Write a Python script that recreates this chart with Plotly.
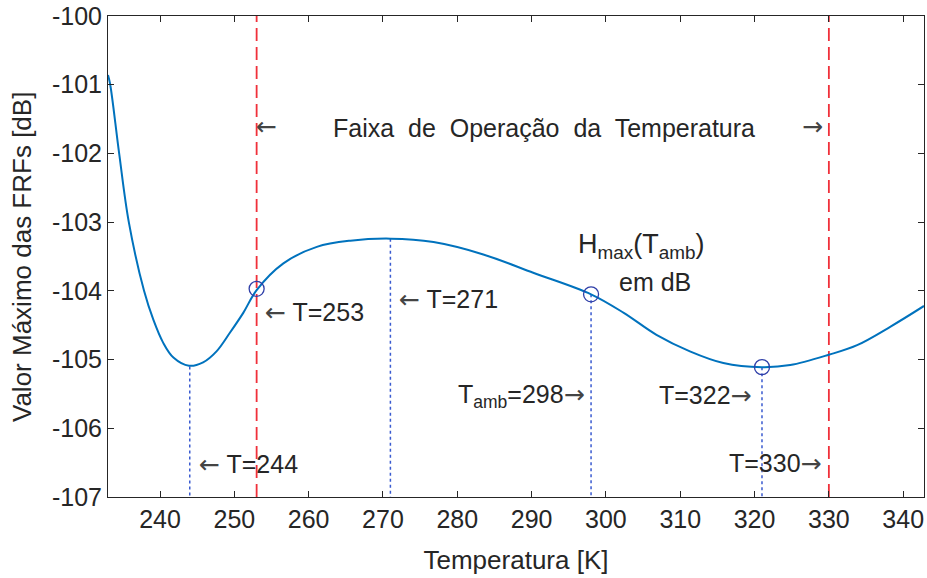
import plotly.graph_objects as go

# Curve
T_curve = [233.0, 233.3, 234.5, 235.8, 237.85, 239.1, 240.4, 241.8, 243.9, 245.8,
           247.6, 249.4, 251.2, 253.0, 256.6, 261.1, 265.6, 271.0,
           276.8, 283.5, 290.3, 298.0, 302.4, 306.8, 311.3, 315.8, 321.0, 324.8,
           330.0, 333.8, 338.3, 342.8]
H_curve = [-100.86, -101.0, -102.0, -103.0, -104.0, -104.42, -104.75, -104.97, -105.09, -105.04,
           -104.88, -104.61, -104.32, -103.99, -103.60, -103.36, -103.27, -103.24,
           -103.29, -103.47, -103.74, -104.05, -104.32, -104.64, -104.88, -105.05, -105.11, -105.08,
           -104.93, -104.79, -104.52, -104.22]

T_marks = [253, 298, 321]
H_marks = [-103.97, -104.05, -105.11]

T_dot = [244, 271, 298, 321]
H_dot_top = [-105.10, -103.24, -104.05, -105.11]

T_red = [253, 330]

x_ticks = [240, 250, 260, 270, 280, 290, 300, 310, 320, 330, 340]
y_ticks = [-107, -106, -105, -104, -103, -102, -101, -100]
y_ticktext = ["-107", "-106", "-105", "-104", "-103", "-102", "-101", "-100"]

X_RANGE = [233.0, 342.8]
Y_RANGE = [-107, -100]

FONT = "Liberation Sans, Arial, sans-serif"
TXT = "#262626"

fig = go.Figure()

# dotted blue verticals
for t, h in zip(T_dot, H_dot_top):
    fig.add_trace(go.Scatter(x=[t, t], y=[h, Y_RANGE[0]], mode="lines",
                             line=dict(color="#3a5bd0", width=1.5, dash="dot"),
                             showlegend=False, hoverinfo="skip"))

# red dashed verticals
for t in T_red:
    fig.add_trace(go.Scatter(x=[t, t], y=Y_RANGE, mode="lines",
                             line=dict(color="#f0303a", width=1.8, dash="13px,6px"),
                             showlegend=False, hoverinfo="skip"))

fig.add_trace(go.Scatter(x=T_curve, y=H_curve, mode="lines",
                         line=dict(color="#0072BD", width=2, shape="spline", smoothing=1.0),
                         showlegend=False))

fig.add_trace(go.Scatter(x=T_marks, y=H_marks, mode="markers",
                         marker=dict(symbol="circle-open", size=15, color="#2f3fa8",
                                     line=dict(width=1.3, color="#2f3fa8")),
                         showlegend=False))

def px2T(px):
    return 240 + (px - 160) / 7.433

def py2H(py):
    return -100 - (py - 16.2) / 68.8

LA = "<span style='font-family:DejaVu Sans;color:#444444'>←</span>"
RA = "<span style='font-family:DejaVu Sans;color:#444444'>→</span>"

ann = []
def add(text, px, py, xanchor, size=25, color=TXT):
    ann.append(dict(text=text, x=px2T(px), y=py2H(py), xref="x", yref="y",
                    xanchor=xanchor, yanchor="middle", showarrow=False,
                    font=dict(family=FONT, size=size, color=color)))

sp = "\u00a0 "
add("Faixa" + sp + "de" + sp + "Operação" + sp + "da" + sp + "Temperatura", 544, 128, "center")
add(LA, 254, 127, "left")
add(RA, 825, 127, "right")
add(LA + " T=253", 263, 313, "left")
add(LA + " T=271", 397, 300, "left")
add("H<sub>max</sub>(T<sub>amb</sub>)", 641, 246, "center", size=27)
add("em dB", 655, 283, "center")
add("T<sub>amb</sub>=298" + RA, 587, 397, "right")
add("T=322" + RA, 754, 396, "right")
add(LA + " T=244", 197, 465, "left")
add("T=330" + RA, 824, 464, "right")

# y-axis title as annotation to match its position
ann.append(dict(text="Valor Máximo das FRFs [dB]", x=(22 - 108) / 816, y=(497 - 257) / 481,
                xref="paper", yref="paper", xanchor="center", yanchor="middle",
                textangle=-90, showarrow=False,
                font=dict(family=FONT, size=26, color=TXT)))

axis_common = dict(showline=True, linecolor=TXT, linewidth=1, mirror="ticks",
                   ticks="inside", ticklen=6, tickcolor=TXT, tickwidth=1,
                   showgrid=False, zeroline=False,
                   tickfont=dict(family=FONT, size=25, color=TXT))

fig.update_layout(
    width=927, height=578,
    margin=dict(l=108, r=3, t=16, b=81),
    paper_bgcolor="white", plot_bgcolor="white",
    xaxis=dict(range=X_RANGE, tickvals=x_ticks,
               title=dict(text="Temperatura [K]", font=dict(family=FONT, size=26, color=TXT),
                          standoff=18),
               **axis_common),
    yaxis=dict(range=Y_RANGE, tickvals=y_ticks, ticktext=y_ticktext,
               **axis_common),
    annotations=ann,
)

fig.write_html("out.html")
